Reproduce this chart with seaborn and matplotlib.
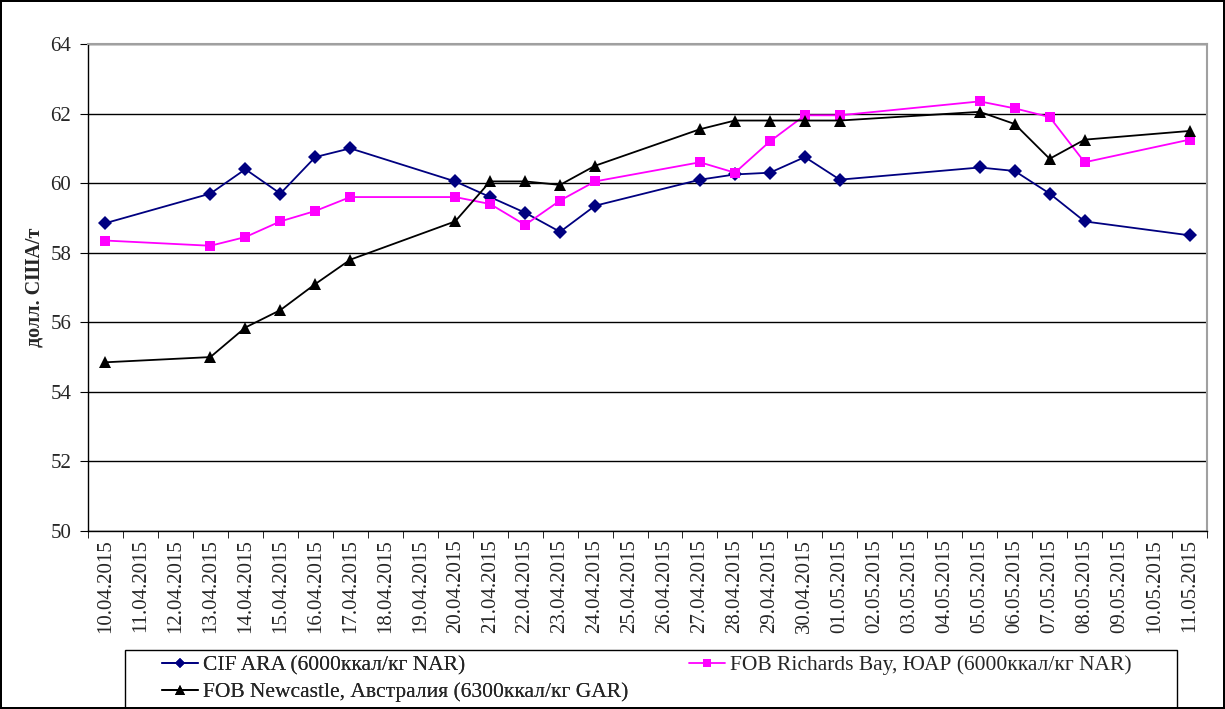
import pandas as pd
import numpy as np
import matplotlib
matplotlib.use('Agg')
import matplotlib.pyplot as plt
import seaborn as sns
from matplotlib.lines import Line2D
from matplotlib.patches import Rectangle

# Все даты оси X (категории)
all_dates = pd.date_range('2015-04-10', '2015-05-11', freq='D')
tick_labels = [d.strftime('%d.%m.%Y') for d in all_dates]

# Даты с котировками
obs_dates = ['10.04.2015', '13.04.2015', '14.04.2015', '15.04.2015', '16.04.2015',
             '17.04.2015', '20.04.2015', '21.04.2015', '22.04.2015', '23.04.2015',
             '24.04.2015', '27.04.2015', '28.04.2015', '29.04.2015', '30.04.2015',
             '01.05.2015', '05.05.2015', '06.05.2015', '07.05.2015', '08.05.2015',
             '11.05.2015']

cif_ara = [58.85, 59.7, 60.4, 59.7, 60.75, 61.0, 60.05, 59.6, 59.15, 58.6,
           59.35, 60.1, 60.25, 60.3, 60.75, 60.1, 60.45, 60.35, 59.7, 58.9, 58.5]
richards_bay = [58.35, 58.2, 58.45, 58.9, 59.2, 59.6, 59.6, 59.4, 58.8, 59.5,
                60.05, 60.6, 60.3, 61.2, 61.95, 61.95, 62.35, 62.15, 61.9, 60.6, 61.25]
newcastle = [54.85, 55.0, 55.85, 56.35, 57.1, 57.8, 58.9, 60.05, 60.05, 59.95,
             60.5, 61.55, 61.8, 61.8, 61.8, 61.8, 62.05, 61.7, 60.7, 61.25, 61.5]

series_names = ['CIF ARA (6000ккал/кг NAR)',
                'FOB Richards Bay, ЮАР (6000ккал/кг NAR)',
                'FOB Newcastle, Австралия (6300ккал/кг GAR)']

# Таблица в длинном формате
x_pos = [tick_labels.index(d) for d in obs_dates]
df = pd.concat([
    pd.DataFrame({'x': x_pos, 'price': vals, 'series': name})
    for name, vals in zip(series_names, [cif_ara, richards_bay, newcastle])
])

sns.set_style('white')
plt.rcParams['font.family'] = ['Liberation Serif', 'DejaVu Serif']

W, H = 1225, 709
fig = plt.figure(figsize=(W / 100, H / 100), dpi=100)
fig.patch.set_edgecolor('black')
fig.patch.set_linewidth(1.5)
ax = fig.add_axes([88 / W, 1 - 531 / H, (1207 - 88) / W, (531 - 44) / H])

colors = {series_names[0]: '#000080', series_names[1]: '#FF00FF', series_names[2]: 'black'}
markers = {series_names[0]: 'D', series_names[1]: 's', series_names[2]: '^'}
msizes = {series_names[0]: 7, series_names[1]: 6.5, series_names[2]: 8.5}

for name in series_names:
    sns.lineplot(data=df[df['series'] == name], x='x', y='price', color=colors[name],
                 marker=markers[name], markersize=msizes[name], markeredgewidth=0,
                 linewidth=1.3, ax=ax)

ax.set_xlim(-0.5, len(tick_labels) - 0.5)
ax.set_ylim(50, 64)
ax.set_yticks(np.arange(50, 65, 2))
ax.set_xticks(range(len(tick_labels)))
ax.set_xticklabels(tick_labels, rotation=90, fontsize=15)
ax.set_xticks(np.arange(-0.5, len(tick_labels), 1), minor=True)
ax.tick_params(axis='x', which='major', length=0, pad=6)
ax.tick_params(axis='x', which='minor', length=5, direction='out', color='black', bottom=True)
ax.tick_params(axis='y', length=6, direction='out', color='black', left=True, labelsize=15, pad=6)
ax.set_xlabel('')
ax.set_ylabel('долл. США/т', fontsize=14.5, fontweight='bold', labelpad=4)
ax.yaxis.grid(True, color='black', linewidth=1)
ax.set_axisbelow(True)
for s in ['left', 'bottom']:
    ax.spines[s].set_color('black')
    ax.spines[s].set_linewidth(1)
for s in ['top', 'right']:
    ax.spines[s].set_color('#A0A0A0')
    ax.spines[s].set_linewidth(1.5)

# Легенда: рамка и две колонки
fig.add_artist(Rectangle((125 / W, -0.05), (1177 - 125) / W, 0.05 + 1 - 650 / H,
                         transform=fig.transFigure, fill=False, edgecolor='black', linewidth=1))

def handle(name, ms):
    return Line2D([], [], color=colors[name], marker=markers[name], markersize=ms,
                  markeredgewidth=0, linewidth=1.3)

leg_kw = dict(frameon=False, fontsize=15.5, handlelength=1.65, handletextpad=0.25,
              borderpad=0, borderaxespad=0, labelspacing=0.3, loc='center left')
leg1 = fig.legend([handle(series_names[0], 5), handle(series_names[2], 7)],
                  [series_names[0], series_names[2]],
                  bbox_to_anchor=(162 / W, 1 - 679 / H), **leg_kw)
fig.add_artist(leg1)
fig.legend([handle(series_names[1], 5.5)], [series_names[1]],
           bbox_to_anchor=(689 / W, 1 - 665 / H), **leg_kw)

fig.savefig('out.png', dpi=100)
